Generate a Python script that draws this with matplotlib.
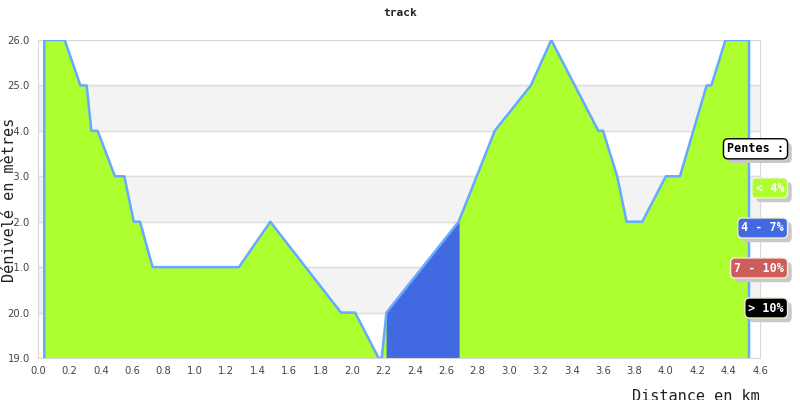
import numpy as np
import matplotlib.pyplot as plt
from matplotlib import ticker
import matplotlib.patheffects as pe

# profile data
distance_km = [0.04, 0.04, 0.17, 0.27, 0.31, 0.34, 0.38, 0.49, 0.55, 0.61, 0.65, 0.73,
               1.28, 1.48, 1.93, 2.02, 2.17, 2.19, 2.22, 2.68, 2.91, 3.14, 3.27, 3.57,
               3.60, 3.69, 3.75, 3.85, 4.00, 4.09, 4.26, 4.29, 4.38, 4.53, 4.53]
altitude_m = [19.0, 26.0, 26.0, 25.0, 25.0, 24.0, 24.0, 23.0, 23.0, 22.0, 22.0, 21.0,
              21.0, 22.0, 20.0, 20.0, 19.0, 19.0, 20.0, 22.0, 24.0, 25.0, 26.0, 24.0,
              24.0, 23.0, 22.0, 22.0, 23.0, 23.0, 25.0, 25.0, 26.0, 26.0, 19.0]
# slope class of the segment starting at each point (0: <4%, 1: 4-7%, 2: 7-10%, 3: >10%)
pente_cls = [0] * 18 + [1] + [0] * 16

pente_labels = ["< 4%", "4 - 7%", "7 - 10%", "> 10%"]
pente_colors = ["#adff2f", "#4169e1", "#cd5c5c", "#000000"]

x = np.array(distance_km)
y = np.array(altitude_m)
cls = np.array(pente_cls)
ymin, ymax = 19.0, 26.0

fig = plt.figure(figsize=(8, 4), dpi=100)
ax = fig.add_axes([0.0475, 0.105, 0.9025, 0.795])

# alternate grey bands
for lo in np.arange(ymin + 1, ymax, 2):
    ax.axhspan(lo, lo + 1, color="#f3f3f3", zorder=0)
ax.yaxis.grid(True, color="#dddddd", lw=1, zorder=1)

# fill per slope class (contiguous runs)
for k, c in enumerate(pente_colors):
    seg = cls[:-1] == k
    mask = np.zeros(len(x), dtype=bool)
    mask[:-1] |= seg
    mask[1:] |= seg
    if mask.any():
        ax.fill_between(x, y, ymin, where=mask, color=c, lw=0.5, ec=c, zorder=2)
ax.plot(x, y, color="#66aaff", lw=1.8, zorder=3)

ax.set_xlim(0, 4.6)
ax.set_ylim(ymin, ymax)
ax.xaxis.set_major_locator(ticker.MultipleLocator(0.2))
ax.yaxis.set_major_locator(ticker.MultipleLocator(1.0))
ax.xaxis.set_major_formatter(ticker.FormatStrFormatter("%.1f"))
ax.yaxis.set_major_formatter(ticker.FormatStrFormatter("%.1f"))
ax.tick_params(length=0, labelsize=7.2, colors="#444444", pad=6)
for s in ax.spines.values():
    s.set_color("#d8d8d8")

fig.text(0.5, 0.968, "track", ha="center", va="center", family="DejaVu Sans Mono",
         fontsize=8, fontweight="bold", color="#222222")
fig.text(0.012, 0.5, "Dénivelé en mètres", rotation=90, ha="center", va="center",
         family="DejaVu Sans Mono", fontsize=11, color="#222222",
         bbox=dict(facecolor="white", edgecolor="none", pad=-2))
fig.text(0.95, 0.008, "Distance en km", ha="right", va="center",
         family="DejaVu Sans Mono", fontsize=11, color="#222222")

# legend boxes with drop shadow
shadow = [pe.SimplePatchShadow(offset=(3, -3), shadow_rgbFace="#c8c8c8", alpha=1), pe.Normal()]
def badge(xr, yc, txt, fc, tc, ec):
    t = fig.text(xr, yc, txt, ha="right", va="center", family="DejaVu Sans Mono",
                 fontsize=8.5, fontweight="bold", color=tc,
                 bbox=dict(boxstyle="round,pad=0.3,rounding_size=0.4", fc=fc, ec=ec, lw=1))
    t.get_bbox_patch().set_path_effects(shadow)

badge(0.980, 0.628, "Pentes :", "white", "black", "black")
for k, (lab, c) in enumerate(zip(pente_labels, pente_colors)):
    badge(0.980, 0.530 - k * 0.1, lab, c, "white", "#f5f0d0")

fig.savefig("out.png", dpi=100)
